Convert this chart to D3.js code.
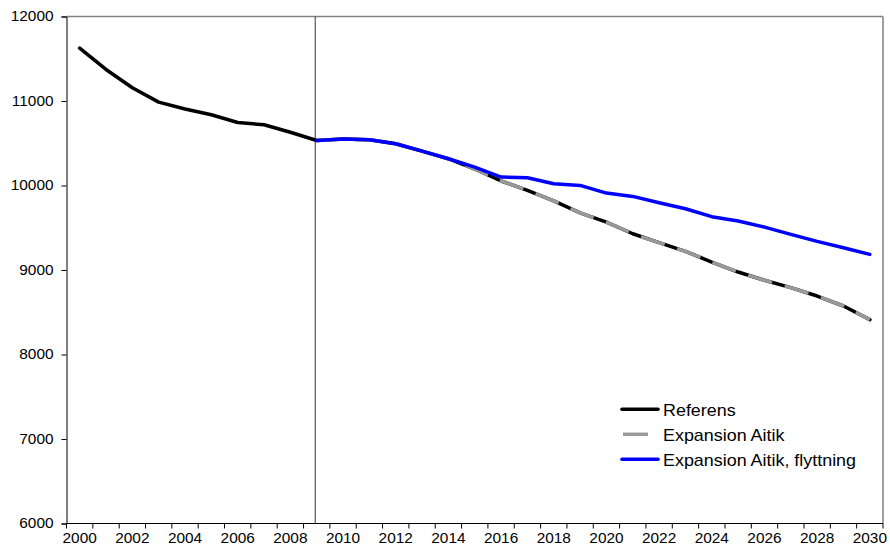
<!DOCTYPE html>
<html>
<head>
<meta charset="utf-8">
<script src="https://cdn.jsdelivr.net/npm/d3@7"></script>
<style>
  html, body { margin: 0; padding: 0; background: #fff; }
  svg { display: block; font-family: Arial, "Liberation Sans", sans-serif; }
</style>
</head>
<body>
<svg id="chart" width="890" height="556"></svg>
<script>
const years = d3.range(2000, 2031);
const yTicks = [6000, 7000, 8000, 9000, 10000, 11000, 12000];
const xTickLabels = d3.range(2000, 2031, 2);
const seriesNames = ["Referens", "Expansion Aitik", "Expansion Aitik, flyttning"];
const seriesColors = ["#000000", "#999999", "#0000ff"];

const referens = [11625, 11373, 11157, 10987, 10906, 10837, 10745, 10719, 10630, 10533,
  10549, 10541, 10494, 10407, 10317, 10195, 10053, 9943, 9817, 9675,
  9567, 9429, 9323, 9221, 9094, 8976, 8878, 8791, 8692, 8574, 8413];
const expansionAitik = [null, null, null, null, null, null, null, null, null, 10533,
  10549, 10541, 10494, 10407, 10317, 10195, 10053, 9943, 9817, 9675,
  9567, 9429, 9323, 9221, 9094, 8976, 8878, 8791, 8692, 8574, 8413];
const flyttning = [null, null, null, null, null, null, null, null, null, 10533,
  10549, 10541, 10494, 10407, 10317, 10218, 10100, 10092, 10021, 10001,
  9910, 9871, 9796, 9725, 9631, 9579, 9508, 9422, 9339, 9264, 9185];
const markerYear = 2009;

const svg = d3.select("#chart");
const pL = 66.5, pR = 883, pT = 16.5, pB = 523.5;
const sx = 1.1; // horizontal stretch of the text in the original

const x = d3.scaleBand().domain(years).range([pL, pR]).padding(0);
const y = d3.scaleLinear().domain([6000, 12000]).range([pB, pT]);
const cx = yr => x(yr) + x.bandwidth() / 2;

// plot frame (top and right in gray)
svg.append("line").attr("x1", pL).attr("x2", pR).attr("y1", pT).attr("y2", pT)
  .attr("stroke", "#808080").attr("stroke-width", 1.5);
svg.append("line").attr("x1", pR).attr("x2", pR).attr("y1", pT).attr("y2", pB)
  .attr("stroke", "#808080").attr("stroke-width", 1.5);

// Y axis
const yAxis = d3.axisLeft(y).tickValues(yTicks).tickSize(5).tickFormat(d3.format("d"));
const gy = svg.append("g").attr("transform", `translate(${pL},0)`).call(yAxis);
gy.select(".domain").attr("stroke", "#000");
gy.selectAll(".tick line").attr("stroke", "#000");
gy.selectAll("text").attr("font-size", 14).attr("fill", "#000")
  .attr("font-family", "Arial, 'Liberation Sans', sans-serif")
  .attr("x", null)
  .attr("transform", `translate(-13,0) scale(${sx},1)`);

// X axis: ticks between categories
const gx = svg.append("g").attr("transform", `translate(0,${pB})`);
gx.append("line").attr("x1", pL).attr("x2", pR).attr("y1", 0).attr("y2", 0).attr("stroke", "#000");
const boundaries = years.map(yr => x(yr)).concat([pR]);
gx.selectAll("line.tk").data(boundaries).enter().append("line").attr("class", "tk")
  .attr("x1", d => d).attr("x2", d => d).attr("y1", 0).attr("y2", 5).attr("stroke", "#000");
gx.selectAll("text").data(xTickLabels).enter().append("text")
  .attr("transform", d => `translate(${cx(d)},19) scale(${sx},1)`)
  .attr("text-anchor", "middle")
  .attr("font-size", 14).attr("fill", "#000").text(d => d);

// vertical marker line at 2009
svg.append("line").attr("x1", cx(markerYear) - 1.5).attr("x2", cx(markerYear) - 1.5)
  .attr("y1", pT).attr("y2", pB).attr("stroke", "#333").attr("stroke-width", 1);

const line = d3.line().defined(d => d.v != null).x(d => cx(d.yr)).y(d => y(d.v));
const toPts = arr => arr.map((v, i) => ({ yr: years[i], v }));

svg.append("path").datum(toPts(referens)).attr("d", line)
  .attr("fill", "none").attr("stroke", seriesColors[0]).attr("stroke-width", 3.5)
  .attr("stroke-linejoin", "round").attr("stroke-linecap", "round");
svg.append("path").datum(toPts(expansionAitik)).attr("d", line)
  .attr("fill", "none").attr("stroke", seriesColors[1]).attr("stroke-width", 3.5)
  .attr("stroke-dasharray", "25,13").attr("stroke-linejoin", "round");
svg.append("path").datum(toPts(flyttning)).attr("d", line)
  .attr("fill", "none").attr("stroke", seriesColors[2]).attr("stroke-width", 3.5)
  .attr("stroke-linejoin", "round").attr("stroke-linecap", "round");

// legend
const legY = [409.3, 434.3, 459.3];
const lg = svg.append("g");
seriesNames.forEach((name, i) => {
  const ln = lg.append("line").attr("x1", 622).attr("x2", 658).attr("y1", legY[i]).attr("y2", legY[i])
    .attr("stroke", seriesColors[i]).attr("stroke-width", 3.5);
  if (i === 1) ln.attr("x1", 623).attr("x2", 648);
  else ln.attr("stroke-linecap", "round");
  lg.append("text")
    .attr("transform", `translate(663,${legY[i] + 6.5}) scale(1.12,1)`)
    .attr("font-size", 16).attr("fill", "#000").text(name);
});
</script>
</body>
</html>
